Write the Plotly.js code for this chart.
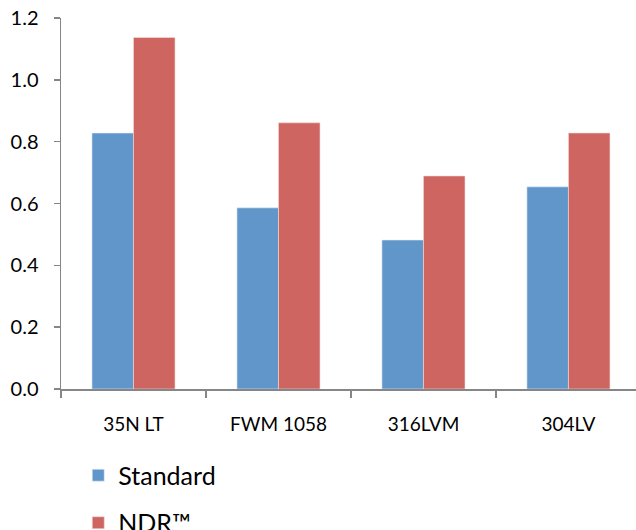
<!DOCTYPE html>
<html>
<head>
<meta charset="utf-8">
<script src="https://cdn.plot.ly/plotly-3.0.1.min.js"></script>
<style>html,body{margin:0;padding:0;background:#fff;}#chart{width:636px;height:530px;}</style>
</head>
<body>
<div id="chart"></div>
<script>
var categories = ["35N LT", "FWM 1058", "316LVM", "304LV"];
var standardValues = [0.828, 0.586, 0.482, 0.654];
var ndrValues = [1.137, 0.861, 0.689, 0.828];
var seriesNames = ["Standard", "NDR™"];
var yTickVals = [0, 0.2, 0.4, 0.6, 0.8, 1.0, 1.2];

var traces = [
  {type: "bar", name: seriesNames[0], x: categories, y: standardValues, legendgroup: "a",
   marker: {color: "#6096c9", line: {color: "#e8eef6", width: 0.6}}},
  {type: "bar", name: seriesNames[1], x: categories, y: ndrValues, legendgroup: "b",
   marker: {color: "#ce6560", line: {color: "#f4dcdb", width: 0.6}}}
];

var layout = {
  width: 636, height: 530,
  margin: {l: 61, r: 0, t: 18, b: 141, pad: 0, autoexpand: false},
  paper_bgcolor: "#fff", plot_bgcolor: "#fff",
  font: {family: "Lato, 'Open Sans', sans-serif", color: "#000", size: 19},
  barmode: "group", bargap: 0.427, bargroupgap: 0,
  showlegend: true,
  legend: {orientation: "v", x: 0.03, xanchor: "left", y: -0.171, yanchor: "top",
           font: {size: 25, color: "#000"}, tracegroupgap: 12, bgcolor: "rgba(0,0,0,0)"},
  xaxis: {type: "category", range: [-0.5, 3.466], tickson: "boundaries",
          ticks: "outside", ticklen: 7, tickwidth: 1.5, tickcolor: "#868686",
          showline: true, linecolor: "#868686", linewidth: 1.5,
          showgrid: false, zeroline: false, ticklabelstandoff: 18,
          tickfont: {size: 19}},
  yaxis: {range: [0, 1.2], tickvals: yTickVals, tickformat: ".1f",
          ticks: "outside", ticklen: 6, tickwidth: 1.5, tickcolor: "#868686",
          showline: true, linecolor: "#868686", linewidth: 1.5,
          showgrid: false, zeroline: false, ticklabelstandoff: 11,
          tickfont: {size: 20}}
};

Plotly.newPlot("chart", traces, layout, {displayModeBar: false, staticPlot: true});
</script>
</body>
</html>
